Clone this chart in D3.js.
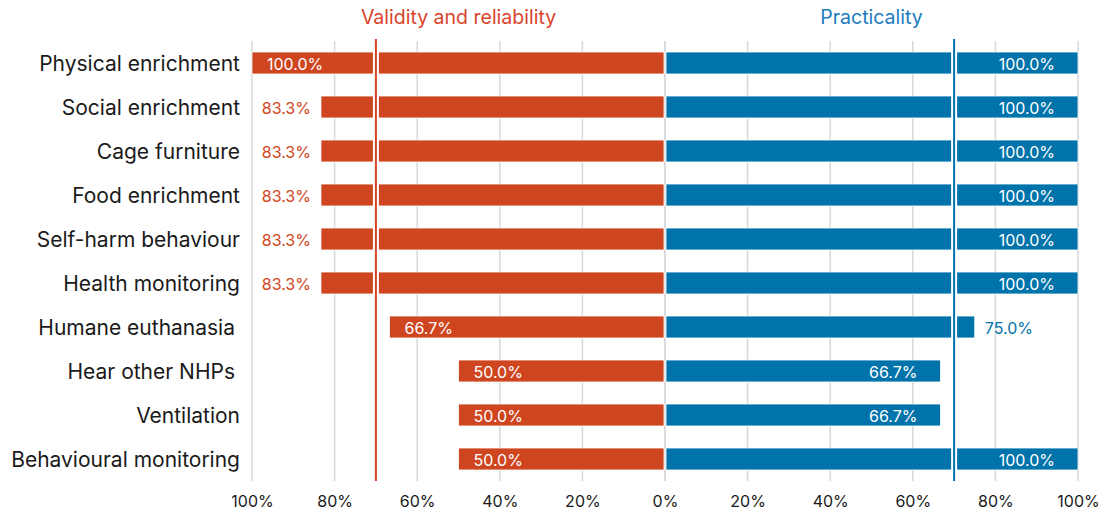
<!DOCTYPE html>
<html><head><meta charset="utf-8">
<script src="https://cdn.jsdelivr.net/npm/d3@7"></script>
<style>body{margin:0;background:#fff}svg{display:block;font-family:Inter,"Noto Sans",sans-serif}</style>
</head><body><svg id="c" width="1104" height="514"></svg>
<script>
const categories = ["Physical enrichment","Social enrichment","Cage furniture","Food enrichment","Self-harm behaviour","Health monitoring","Humane euthanasia","Hear other NHPs","Ventilation","Behavioural monitoring"];
const validity = [100.0,83.3,83.3,83.3,83.3,83.3,66.7,50.0,50.0,50.0];
const practicality = [100.0,100.0,100.0,100.0,100.0,100.0,75.0,66.7,66.7,100.0];
const tickValues = [0,20,40,60,80,100];
const threshold = 70;
const seriesTitles = ["Validity and reliability","Practicality"];

(function(){
const svg = d3.select("#c");
const cx = 665, L = 252, R = 1078;
const red = "#cf4520", blue = "#0073ab";
const xL = d3.scaleLinear().domain([0,100]).range([cx, L]);
const xR = d3.scaleLinear().domain([0,100]).range([cx, R]);
const y = d3.scaleBand().domain(categories).range([41, 481]).paddingInner(0.5).paddingOuter(0.25);
const yTop = 41, yBot = 481;

// gridlines
const g = svg.append("g");
[xL, xR].forEach(s => {
  g.selectAll(null).data(tickValues).enter().append("line")
    .attr("x1", d => s(d)).attr("x2", d => s(d)).attr("y1", yTop).attr("y2", yBot)
    .attr("stroke", "#d8d8d8").attr("stroke-width", 1.5);
});

// bars
const bars = svg.append("g");
bars.selectAll(".l").data(categories).enter().append("rect")
  .attr("x", (d,i) => xL(validity[i])).attr("y", d => y(d))
  .attr("width", (d,i) => xL(0) - xL(validity[i]) - 1).attr("height", y.bandwidth())
  .attr("fill", red).attr("stroke", "#fff").attr("stroke-width", 0.8);
bars.selectAll(".r").data(categories).enter().append("rect")
  .attr("x", xR(0) + 1).attr("y", d => y(d))
  .attr("width", (d,i) => xR(practicality[i]) - xR(0) - 1).attr("height", y.bandwidth())
  .attr("fill", blue).attr("stroke", "#fff").attr("stroke-width", 0.8);

// threshold lines
[[xL, red],[xR, blue]].forEach(([s, c]) => {
  svg.append("line").attr("x1", s(threshold)).attr("x2", s(threshold)).attr("y1", yTop).attr("y2", yBot)
    .attr("stroke", "#fff").attr("stroke-width", 6);
  svg.append("line").attr("x1", s(threshold)).attr("x2", s(threshold)).attr("y1", yTop - 2).attr("y2", yBot)
    .attr("stroke", c).attr("stroke-width", 2);
});

// value labels
const fmt = v => v.toFixed(1) + "%";
const vl = svg.append("g").attr("font-size", "16px");
categories.forEach((c, i) => {
  const v = validity[i], yc = y(c) + y.bandwidth()/2;
  const inside = v >= 90 || v <= 70;
  vl.append("text").text(fmt(v)).attr("dominant-baseline", "central").attr("y", yc + 1)
    .attr("x", inside ? xL(v) + 15 : xL(v) - 10)
    .attr("text-anchor", inside ? "start" : "end")
    .attr("fill", inside ? "#fff" : red);
  const p = practicality[i];
  const pin = p >= 90 || p < 70;
  vl.append("text").text(fmt(p)).attr("dominant-baseline", "central").attr("y", yc + 1)
    .attr("x", pin ? xR(p) - 23 : xR(p) + 10)
    .attr("text-anchor", pin ? "end" : "start")
    .attr("fill", pin ? "#fff" : blue);
});

// category labels
svg.append("g").selectAll("text").data(categories).enter().append("text")
  .attr("x", d => (d === "Humane euthanasia" || d === "Hear other NHPs") ? 235 : 240)
  .attr("y", d => y(d) + y.bandwidth()/2 + 0.5)
  .attr("text-anchor", "end").attr("dominant-baseline", "central")
  .attr("font-size", "21px").attr("fill", "#1a1a1a").text(d => d);

// axes
const axL = d3.axisBottom(xL).tickValues(tickValues.slice(1)).tickFormat(d => d + "%").tickSize(0);
const axR = d3.axisBottom(xR).tickValues(tickValues).tickFormat(d => d + "%").tickSize(0);
[axL, axR].forEach(ax => {
  const a = svg.append("g").attr("transform", "translate(0,493)").call(ax);
  a.select(".domain").remove();
  a.selectAll("text").attr("font-size", "16px").attr("fill", "#1a1a1a").attr("font-family", "Inter,'Noto Sans',sans-serif");
});

// titles
svg.append("text").attr("x", (L + cx)/2).attr("y", 17).attr("text-anchor", "middle").attr("dominant-baseline", "central")
  .attr("font-size", "19.5px").attr("fill", "#d9432b").text(seriesTitles[0]);
svg.append("text").attr("x", (R + cx)/2).attr("y", 17).attr("text-anchor", "middle").attr("dominant-baseline", "central")
  .attr("font-size", "19.5px").attr("fill", "#1b7cc0").text(seriesTitles[1]);
})();
</script></body></html>
